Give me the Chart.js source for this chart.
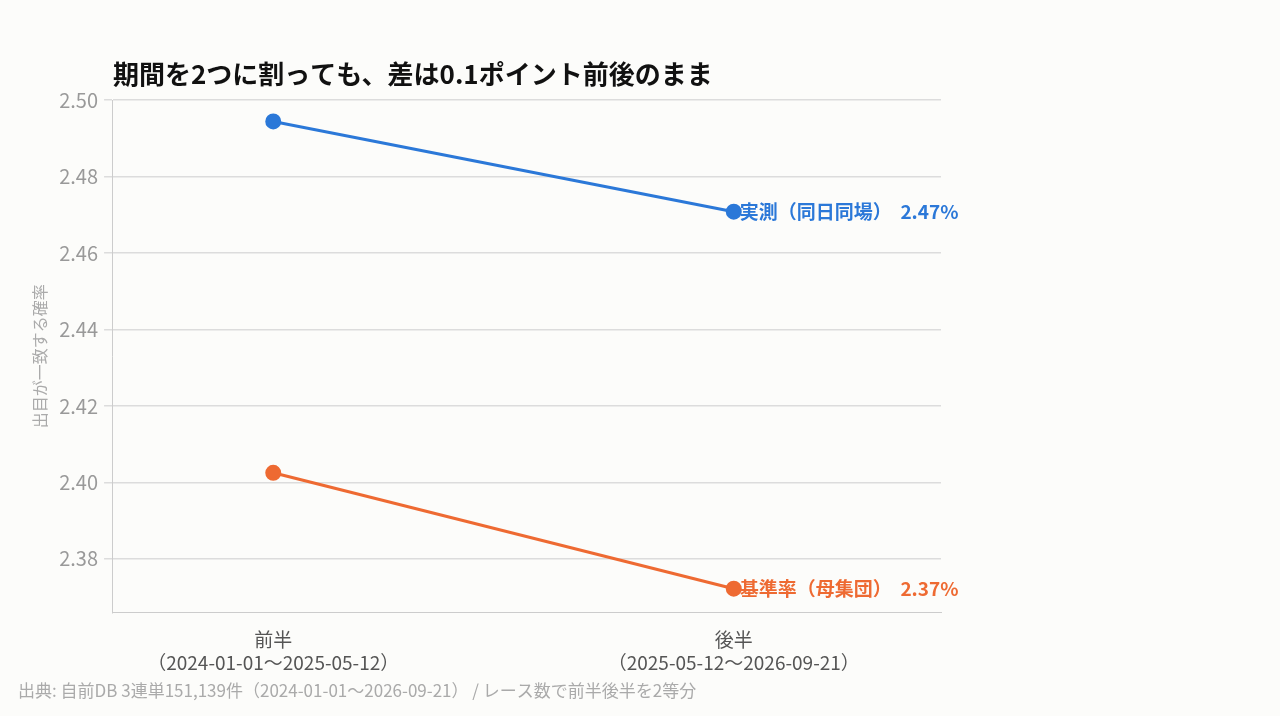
<!DOCTYPE html>
<html><head><meta charset="utf-8">
<script src="https://cdn.jsdelivr.net/npm/chart.js@4"></script>
<style>html,body{margin:0;background:#fcfcfa;}#w{width:1280px;height:716px;position:relative}</style>
</head><body><div id="w"><canvas id="c"></canvas></div>
<script>
const categories=[["前半","（2024-01-01〜2025-05-12）"],["後半","（2025-05-12〜2026-09-21）"]];
const seriesNames=["実測（同日同場）","基準率（母集団）"];
const actual=[2.4944,2.4708];
const base=[2.4025,2.3722];
const endLabels=["2.47%","2.37%"];
const colors=["#2b78d8","#ee6a32"];
const F="'Noto Sans CJK JP','Noto Sans',sans-serif";
const endLabel={id:'endLabel',afterDatasetsDraw(ch){const c=ch.ctx;c.save();c.font="bold 19px "+F;c.textBaseline='middle';
ch.data.datasets.forEach((d,i)=>{const m=ch.getDatasetMeta(i).data[1];c.fillStyle=colors[i];c.fillText(seriesNames[i]+"  "+endLabels[i],m.x+6,m.y);});
c.fillStyle='#111';c.font="bold 26px "+F;c.fillText("期間を2つに割っても、差は0.1ポイント前後のまま",113,74);
c.fillStyle='#aaa';c.font="17px "+F;c.textBaseline='alphabetic';c.fillText("出典: 自前DB 3連単151,139件（2024-01-01〜2026-09-21） / レース数で前半後半を2等分",18,697);c.restore();}};
new Chart(document.getElementById('c'),{type:'line',
data:{datasets:[actual,base].map((v,i)=>({label:seriesNames[i],data:v.map((y,j)=>({x:j,y})),borderColor:colors[i],backgroundColor:colors[i],borderWidth:3,pointRadius:6.5,pointHoverRadius:6.5}))},
options:{responsive:true,maintainAspectRatio:false,animation:false,
layout:{padding:{left:26,right:339,top:100,bottom:34}},
plugins:{legend:{display:false},tooltip:{enabled:false},title:{display:false}},
scales:{x:{type:'linear',min:-0.35,max:1.45,grid:{display:false},border:{color:'#ccc'},afterBuildTicks(a){a.ticks=[{value:0},{value:1}];},
ticks:{callback:v=>categories[v],color:'#555',font:{family:F,size:19},padding:8}},
y:{min:2.366,max:2.5,grid:{color:'#dcdcdc',lineWidth:1.5},border:{color:'#ccc'},afterBuildTicks(a){a.ticks=[2.38,2.40,2.42,2.44,2.46,2.48,2.50].map(value=>({value}));},
ticks:{callback:v=>v.toFixed(2),color:'#999',font:{family:F,size:20},padding:6},
title:{display:true,text:"出目が一致する確率",color:'#aaa',font:{family:F,size:16}}}}},
plugins:[endLabel]});
</script></body></html>
